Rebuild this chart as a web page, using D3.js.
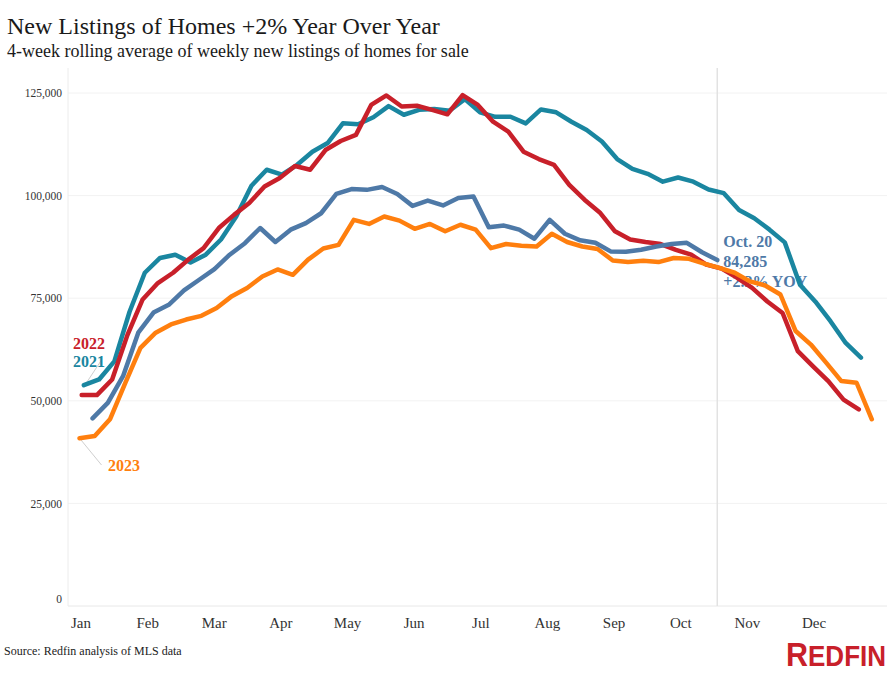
<!DOCTYPE html>
<html>
<head>
	<meta charset="utf-8">
	<script src="https://d3js.org/d3.v7.min.js"></script>
	<style>
		body { margin: 0; background: #fff; }
		svg { display: block; font-family: "Liberation Serif", "Times New Roman", serif; }
	</style>
</head>
<body>
	<div class="chart"></div>
	<script>
		// weekly new listings, 4-week rolling average (week ending Sunday)
		var months = ["Jan","Feb","Mar","Apr","May","Jun","Jul","Aug","Sep","Oct","Nov","Dec"];
		var yTicks = [0, 25000, 50000, 75000, 100000, 125000];

		var start2021 = "2021-01-03";
		var listings2021 = [53800, 55200, 59600, 71700, 81200, 84800, 85600, 83700, 85600, 89300,
			94900, 102400, 106300, 105100, 107500, 110700, 112800, 117600, 117400, 119100,
			121800, 119700, 120900, 121100, 120700, 123500, 120300, 119200, 119200, 117600,
			121000, 120300, 118000, 116000, 113200, 108900, 106500, 105300, 103400, 104400,
			103400, 101500, 100600, 96500, 94500, 91700, 88600, 78300, 74200, 69400,
			64100, 60500];

		var start2022 = "2022-01-02";
		var listings2022 = [51400, 51400, 55200, 66000, 74700, 78700, 81200, 84400, 87200, 92100,
			95300, 98200, 102200, 104300, 107200, 106300, 111100, 113300, 114800, 122100,
			124400, 121700, 121900, 120900, 119800, 124500, 122100, 118000, 115600, 110700,
			108900, 107500, 102600, 99000, 95900, 91300, 89300, 88700, 88200, 86800,
			85600, 83200, 82200, 80000, 77500, 74200, 71400, 62100, 58400, 54800,
			50300, 47900];

		var start2023 = "2023-01-01";
		var listings2023 = [40900, 41400, 45500, 54300, 62900, 66600, 68600, 69800, 70700, 72600,
			75500, 77500, 80300, 82000, 80700, 84400, 87100, 88000, 94100, 93100,
			94900, 93900, 91900, 93100, 91300, 92900, 91700, 87200, 88200, 87800,
			87600, 90700, 88700, 87600, 87000, 84200, 83800, 84100, 83800, 84800,
			84600, 83400, 82400, 81200, 79100, 78100, 75900, 67000, 63700, 59300,
			54800, 54400, 45500];

		var start2024 = "2024-01-07";
		var listings2024 = [45700, 49500, 56000, 66600, 71500, 73400, 76900, 79500, 82100, 85600,
			88400, 92100, 88700, 91700, 93300, 95700, 100400, 101600, 101400, 102100,
			100400, 97500, 98800, 97600, 99400, 99800, 92300, 92700, 91700, 89500,
			94100, 90700, 89100, 88500, 86400, 86300, 86800, 87600, 88200, 88500,
			86200, 84285];

		var latestDate = "2024-10-20";
		var latestLines = ["Oct. 20", "84,285", "+2.2% YOY"];

		var w = 894, h = 674;
		var colors = { y2021: "#1a86a0", y2022: "#c8202a", y2023: "#ff7f0e", y2024: "#4e79a7" };

		var parse = d3.utcParse("%Y-%m-%d");
		function dayOfYear(d) { return d3.utcDay.count(d3.utcYear(d), d); }
		function weekly(start, values) {
			var s = parse(start);
			return values.map(function(v, i) {
				return { day: dayOfYear(d3.utcDay.offset(s, 7 * i)), value: v };
			});
		}

		var series = [
			{ key: "y2021", data: weekly(start2021, listings2021) },
			{ key: "y2022", data: weekly(start2022, listings2022) },
			{ key: "y2023", data: weekly(start2023, listings2023) },
			{ key: "y2024", data: weekly(start2024, listings2024) }
		];

		var svg = d3.select(".chart")
			.append("svg")
			.attr("width", w)
			.attr("height", h);

		var x = d3.scaleLinear().domain([0, 365]).range([79.5, 874]);
		var y = d3.scaleLinear().domain([0, 125000]).range([606, 93]);
		var xMonth = d3.scalePoint().domain(months).range([80.5, 813.5]);

		// title
		svg.append("text").attr("x", 7).attr("y", 34)
			.attr("font-size", 24).attr("fill", "#1a1a1a")
			.text("New Listings of Homes +2% Year Over Year");
		svg.append("text").attr("x", 7).attr("y", 57)
			.attr("font-size", 18).attr("fill", "#1a1a1a")
			.text("4-week rolling average of weekly new listings of homes for sale");

		// grid
		svg.append("g").selectAll("line")
			.data(yTicks)
			.enter()
			.append("line")
			.attr("x1", 68).attr("x2", 887)
			.attr("y1", function(d) { return y(d); })
			.attr("y2", function(d) { return y(d); })
			.attr("stroke", function(d) { return d === 0 ? "#e8e8e8" : "#f2f2f2"; })
			.attr("stroke-width", 1);

		svg.append("line")
			.attr("x1", 68).attr("x2", 68)
			.attr("y1", 68).attr("y2", y(0))
			.attr("stroke", "#ececec");

		var latestDay = dayOfYear(parse(latestDate));
		svg.append("line")
			.attr("x1", x(latestDay)).attr("x2", x(latestDay))
			.attr("y1", 68).attr("y2", y(0))
			.attr("stroke", "#e2e2e2")
			.attr("stroke-width", 1.5);

		// y axis
		var yAxis = svg.append("g")
			.attr("transform", "translate(62,0)")
			.call(d3.axisLeft(y).tickValues(yTicks).tickFormat(d3.format(",")).tickSize(0).tickPadding(0));
		yAxis.select(".domain").remove();
		yAxis.selectAll("text")
			.attr("font-family", "Liberation Serif, serif")
			.attr("font-size", 11.5)
			.attr("fill", "#333")
			.attr("dy", function(d) { return d === 0 ? "-0.3em" : "0.32em"; });

		// month axis
		var xAxis = svg.append("g")
			.attr("transform", "translate(0," + y(0) + ")")
			.call(d3.axisBottom(xMonth).tickSize(0));
		xAxis.select(".domain").remove();
		xAxis.selectAll("text")
			.attr("font-family", "Liberation Serif, serif")
			.attr("font-size", 15)
			.attr("fill", "#333")
			.attr("y", 22)
			.attr("dy", 0);

		// annotation for latest week (lines run over it)
		var last = series[3].data[series[3].data.length - 1];
		svg.append("g").selectAll("text")
			.data(latestLines)
			.enter()
			.append("text")
			.attr("x", x(last.day) + 6)
			.attr("y", function(d, i) { return 246.5 + i * 20; })
			.attr("font-size", 16)
			.attr("font-weight", "bold")
			.attr("fill", colors.y2024)
			.text(function(d) { return d; });

		// leader lines for year labels
		var first2021 = series[0].data[0], first2023 = series[2].data[0];
		svg.append("line")
			.attr("x1", x(first2021.day) + 1).attr("y1", y(first2021.value))
			.attr("x2", 101.5).attr("y2", 360)
			.attr("stroke", "#cfcfcf");
		svg.append("line")
			.attr("x1", x(first2023.day)).attr("y1", y(first2023.value))
			.attr("x2", 101.5).attr("y2", 465)
			.attr("stroke", "#cfcfcf");

		var line = d3.line()
			.x(function(d) { return x(d.day); })
			.y(function(d) { return y(d.value); });

		svg.append("g").selectAll("path")
			.data(series)
			.enter()
			.append("path")
			.attr("d", function(d) { return line(d.data); })
			.attr("fill", "none")
			.attr("stroke", function(d) { return colors[d.key]; })
			.attr("stroke-width", 4.5)
			.attr("stroke-linejoin", "round")
			.attr("stroke-linecap", "round");

		// year labels
		var yearLabels = [
			{ text: "2022", key: "y2022", x: 73, y: 349 },
			{ text: "2021", key: "y2021", x: 73, y: 366.5 },
			{ text: "2023", key: "y2023", x: 108, y: 470.5 }
		];
		svg.append("g").selectAll("text")
			.data(yearLabels)
			.enter()
			.append("text")
			.attr("x", function(d) { return d.x; })
			.attr("y", function(d) { return d.y; })
			.attr("font-size", 16)
			.attr("font-weight", "bold")
			.attr("fill", function(d) { return colors[d.key]; })
			.text(function(d) { return d.text; });

		// footer
		svg.append("text").attr("x", 4).attr("y", 654.5)
			.attr("font-size", 12).attr("fill", "#222")
			.text("Source: Redfin analysis of MLS data");

		var logo = svg.append("text")
			.attr("x", 786).attr("y", 666)
			.attr("fill", "#c8202a")
			.attr("font-family", "Liberation Sans Narrow, Liberation Sans, Arial, sans-serif")
			.attr("font-weight", "bold")
			.attr("textLength", 100)
			.attr("lengthAdjust", "spacingAndGlyphs");
		logo.append("tspan").attr("font-size", 34).text("R");
		logo.append("tspan").attr("font-size", 29).text("EDFIN");
	</script>
</body>
</html>
